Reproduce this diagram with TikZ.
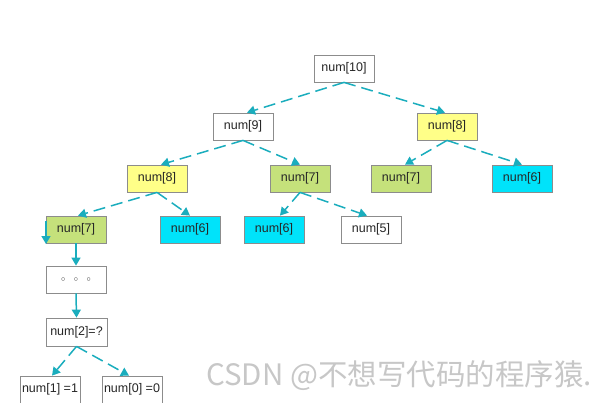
\documentclass[tikz,border=0pt]{standalone}
\usepackage{fontspec}
\setmainfont{Liberation Sans}
\newfontfamily\cjkfont{Noto Sans CJK SC}
\usetikzlibrary{arrows.meta}
\definecolor{edgec}{HTML}{1AADBD}
\definecolor{boxline}{HTML}{8C8C8C}
\definecolor{yel}{HTML}{FFFF88}
\definecolor{grn}{HTML}{C5E17B}
\definecolor{cyn}{HTML}{00E3FA}
\tikzset{
  nbox/.style={draw=boxline, line width=0.8pt, minimum width=60pt, minimum height=27pt,
    inner sep=0pt, font=\fontsize{12.5}{14}\selectfont, text=black!85},
  wbox/.style={nbox, fill=white},
  ybox/.style={nbox, fill=yel},
  gbox/.style={nbox, fill=grn},
  cbox/.style={nbox, fill=cyn},
  dlink/.style={draw=edgec, line width=1.5pt, dash pattern=on 12pt off 6pt,
    -{Triangle[width=9pt,length=8pt,fill=edgec]}},
  slink/.style={draw=edgec, line width=1.5pt, -{Triangle[width=9pt,length=8pt,fill=edgec]}},
}
\begin{document}
\begin{tikzpicture}[x=1pt,y=-1pt]
\useasboundingbox (0,0) rectangle (607,402);
\node[wbox] (n10) at (344,68.5) {num[10]};
\node[wbox] (n9) at (243,126.5) {num[9]};
\node[ybox] (n8r) at (447,126.5) {num[8]};
\node[ybox] (n8) at (157,178.5) {num[8]};
\node[gbox] (n7m) at (300,178.5) {num[7]};
\node[gbox] (n7r) at (401,178.5) {num[7]};
\node[cbox] (n6r) at (522,178.5) {num[6]};
\node[gbox] (n7) at (76,229.5) {num[7]};
\node[cbox] (n6a) at (190,229.5) {num[6]};
\node[cbox] (n6b) at (274,229.5) {num[6]};
\node[wbox] (n5) at (371,229.5) {num[5]};
\node[wbox] (dots) at (76,279.5) {\fontsize{8}{10}\selectfont$\circ\ \ \ \circ\ \ \ \circ$};
\node[wbox, minimum width=61pt, minimum height=28pt] (n2) at (76.5,332) {num[2]=?};
\node[wbox] (n1) at (50,389.5) {num[1] =1};
\node[wbox] (n0) at (132,389.5) {num[0] =0};

\draw[dlink] (n10.south) -- ([xshift=4pt]n9.north);
\draw[dlink] (n10.south) -- ([xshift=-2pt]n8r.north);
\draw[dlink] (n9.south) -- ([xshift=4pt]n8.north);
\draw[dlink] (n9.south) -- (n7m.north);
\draw[dlink] (n8r.south) -- ([xshift=4pt]n7r.north);
\draw[dlink] (n8r.south) -- (n6r.north);
\draw[dlink] (n8.south) -- ([xshift=2pt]n7.north);
\draw[dlink] (n8.south) -- (n6a.north);
\draw[dlink] (n7m.south) -- ([xshift=6pt]n6b.north);
\draw[dlink] (n7m.south) -- ([xshift=-4pt]n5.north);
\draw[slink] (n7.south) -- (dots.north);
\draw[slink] (dots.south) -- (n2.north);
\draw[dlink] (n2.south) -- ([xshift=2pt]n1.north);
\draw[dlink] (n2.south) -- ([xshift=-3pt]n0.north);

\coordinate (aTop) at (46,221);
\coordinate (aBot) at (46,244);
\draw[slink] (aTop) -- (aBot);

\node[font=\cjkfont\fontsize{29.5}{32}\selectfont, text=black!22, anchor=center] (wm) at (399,376) {CSDN @不想写代码的程序猿.};
\end{tikzpicture}
\end{document}
